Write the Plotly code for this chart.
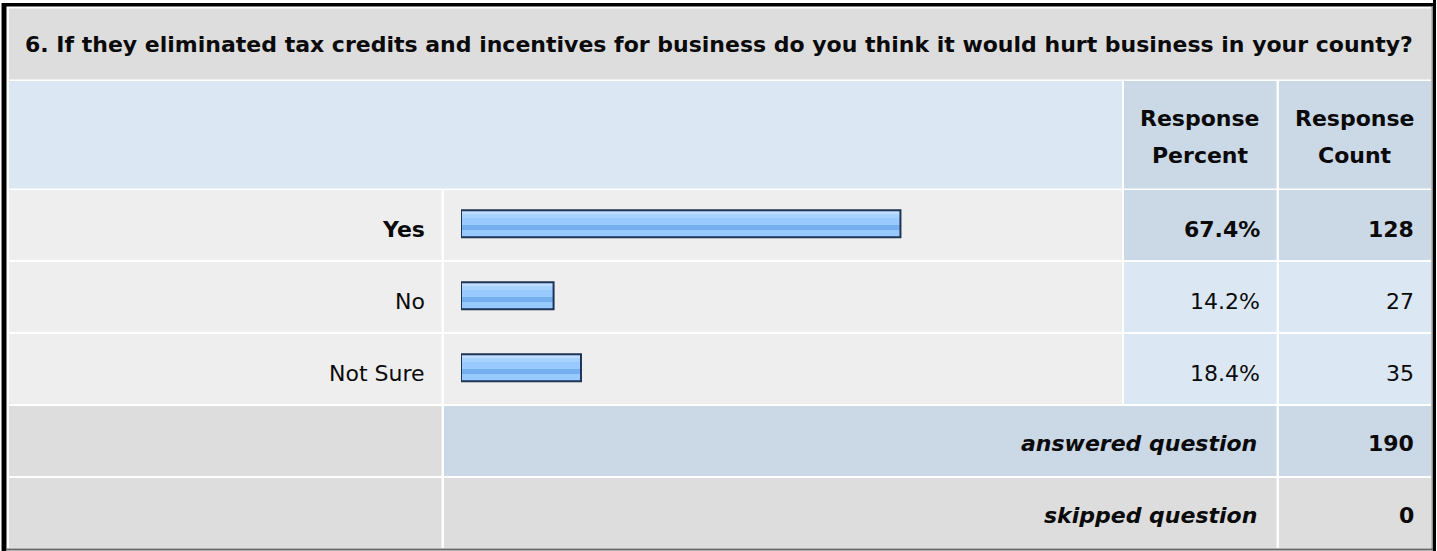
import plotly.graph_objects as go

# ---------------- data ----------------
question = ("6. If they eliminated tax credits and incentives for business "
            "do you think it would hurt business in your county?")
answer_choices = ["Yes", "No", "Not Sure"]
response_percent = [67.4, 14.2, 18.4]
response_count = [128, 27, 35]
header_percent = ["Response", "Percent"]
header_count = ["Response", "Count"]
summary_labels = ["answered question", "skipped question"]
summary_values = [190, 0]

# ---------------- geometry / style ----------------
W, H = 1437, 551
FONT = "DejaVu Sans"
FS = 22
TXT = "#0A0A0A"

TITLE_BG = "#DDDDDD"
HEAD_BG = "#DCE7F4"
HEAD_DARK = "#CBD8E6"
ROW_BG = "#EEEEEE"
CELL_LIGHT = "#DCE7F4"
BAR_BORDER = "#1E3457"


def px(x):
    return x / W


def py(y):
    return 1 - y / H


shapes = []


def rect(x0, y0, x1, y1, color):
    shapes.append(dict(type="rect", xref="paper", yref="paper",
                       x0=px(x0), x1=px(x1), y0=py(y1), y1=py(y0),
                       fillcolor=color, line_width=0, layer="below"))


annotations = []


def text(x, y, s, anchor="right", bold=False, italic=False):
    annotations.append(dict(
        xref="paper", yref="paper", x=px(x), y=py(y), text=s,
        xanchor=anchor, yanchor="middle", showarrow=False,
        font=dict(family=FONT, size=FS, color=TXT,
                  weight="bold" if bold else "normal",
                  style="italic" if italic else "normal")))


# column edges (pixels)
L0, L1 = 9, 441.5
B0, B1 = 444, 1122
P0, P1 = 1124, 1276.5
C0, C1 = 1279, 1431

# title row
rect(L0, 8.5, C1, 79.5, TITLE_BG)
text(23, 45, "<b>%s</b>" % question, anchor="left", bold=True)

# header row
rect(L0, 81, B1, 188.5, HEAD_BG)
rect(P0, 81, P1, 188.5, HEAD_DARK)
rect(C0, 81, C1, 188.5, HEAD_DARK)
for i, line in enumerate(header_percent):
    text((P0 + P1) / 2, 118 + 37 * i, line, anchor="center", bold=True)
for i, line in enumerate(header_count):
    text((C0 + C1) / 2, 118 + 37 * i, line, anchor="center", bold=True)

# data rows
top_idx = response_percent.index(max(response_percent))
for i, (lab, pct, cnt) in enumerate(zip(answer_choices, response_percent, response_count)):
    t = 190 + 72 * i
    b = t + 70
    hi = (i == top_idx)
    rect(L0, t, L1, b, ROW_BG)
    rect(B0, t, B1, b, ROW_BG)
    rect(P0, t, P1, b, HEAD_DARK if hi else CELL_LIGHT)
    rect(C0, t, C1, b, HEAD_DARK if hi else CELL_LIGHT)
    yc = t + 39
    text(427, yc, lab, bold=hi)
    text(1262, yc, "%.1f%%" % pct, bold=hi)
    text(1416, yc, "%d" % cnt, bold=hi)

# summary rows
for j, (lab, val) in enumerate(zip(summary_labels, summary_values)):
    t = 406 + 72 * j
    b = t + 70
    mid = HEAD_DARK if j == 0 else TITLE_BG
    rect(L0, t, L1, b, TITLE_BG)
    rect(B0, t, P1, b, mid)
    rect(C0, t, C1, b, mid)
    yc = t + 37
    text(1259, yc, lab, bold=True, italic=True)
    text(1416, yc, "%d" % val, bold=True)

# outer frame
rect(1, 3, 2, 551, "#888888")
rect(2, 3, 6.5, 551, "#000000")
rect(2, 3, 1433, 6.5, "#000000")
rect(1433, 0, 1436, 551, "#000000")
rect(1431.5, 6.5, 1432.8, 549, "#777777")
rect(6.5, 548.5, 1433, 550.5, "#666666")

# ---------------- bars ----------------
ROW = 72.0  # px per category on the bar y axis
y_pos = list(range(len(answer_choices)))
bar_x0 = 461.0
bar_scale = 6.52  # px per percent
x_dom = [px(bar_x0), px(bar_x0 + bar_scale * 100)]
y_dom = [py(187.7 + 3 * ROW), py(187.7)]

fig = go.Figure()


def bar_layer(color, top, height, line=None):
    fig.add_trace(go.Bar(
        x=response_percent, y=y_pos, orientation="h",
        width=height / ROW, offset=top / ROW,
        marker=dict(color=color,
                    line=dict(color=line or "rgba(0,0,0,0)", width=2 if line else 0)),
        hoverinfo="skip", showlegend=False))


bar_layer("#99CAFF", -13.5, 27)
bar_layer("#BEDDFF", -12.5, 3)
bar_layer("#A9D3FF", -9.5, 3.5)
bar_layer("#77AFEE", 1.3, 5)
bar_layer("rgba(0,0,0,0)", -13.5, 27, line=BAR_BORDER)

fig.update_layout(
    width=W, height=H,
    margin=dict(l=0, r=0, t=0, b=0, pad=0),
    paper_bgcolor="white", plot_bgcolor="rgba(0,0,0,0)",
    barmode="overlay", bargap=0,
    xaxis=dict(domain=x_dom, range=[0, 100], visible=False, fixedrange=True),
    yaxis=dict(domain=y_dom, range=[2.5, -0.5], visible=False, fixedrange=True),
    shapes=shapes, annotations=annotations,
    showlegend=False,
)

fig.write_html("out.html", config={"displayModeBar": False, "staticPlot": True},
               post_script="document.body.style.margin='0';")
